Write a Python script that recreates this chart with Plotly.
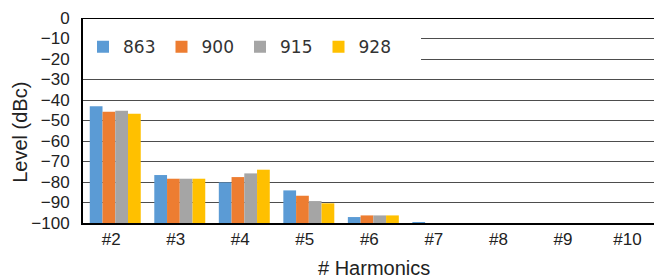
import plotly.graph_objects as go

categories = ["#2", "#3", "#4", "#5", "#6", "#7", "#8", "#9", "#10"]
series_names = ["863", "900", "915", "928"]
f863 = [-43.1, -76.6, -80.2, -84.1, -97.1, -99.6, -100, -100, -100]
f900 = [-45.7, -78.4, -77.6, -86.7, -96.3, -100, -100, -100, -100]
f915 = [-45.2, -78.4, -75.8, -89.3, -96.3, -100, -100, -100, -100]
f928 = [-46.7, -78.4, -74.0, -90.4, -96.3, -100, -100, -100, -100]
colors = ["#5B9BD5", "#ED7D31", "#A5A5A5", "#FFC000"]
y_ticks = list(range(-100, 1, 10))
baseline = -100

fig = go.Figure()
for name, vals, col in zip(series_names, [f863, f900, f915, f928], colors):
    fig.add_trace(go.Bar(
        x=categories, y=[v - baseline for v in vals], base=baseline,
        name=name, marker=dict(color=col, line=dict(width=0)),
    ))

fig.update_layout(
    width=654, height=279,
    margin=dict(l=83, r=0, t=18, b=56, autoexpand=False),
    paper_bgcolor="white", plot_bgcolor="white",
    barmode="group", bargap=0.21, bargroupgap=0,
    font=dict(family="Liberation Sans, Arial, sans-serif", color="#222"),
    showlegend=True,
    legend=dict(
        orientation="h", x=0.0, xanchor="left", y=0.945, yanchor="top",
        bgcolor="white", font=dict(family="DejaVu Sans, sans-serif", size=17, color="#333"),
        entrywidth=33.5, itemwidth=30, traceorder="normal",
    ),
    xaxis=dict(
        type="category", range=[-0.5, 8.35], showgrid=False, automargin=False,
        showline=True, linecolor="black", linewidth=2, ticks="",
        tickfont=dict(size=17), ticklabelshift=-4,
    ),
    yaxis=dict(
        range=[-100, 0], tickvals=y_ticks, showgrid=True, gridcolor="#4d4d4d", gridwidth=1,
        showline=True, linecolor="black", linewidth=2, ticks="", zeroline=False,
        automargin=False, tickfont=dict(size=17), ticklabelstandoff=8,
    ),
    shapes=[
        dict(type="line", xref="paper", yref="y", x0=0, x1=1, y0=0, y1=0,
             line=dict(color="black", width=2)),
        dict(type="rect", xref="paper", yref="y", x0=0.53, x1=0.592, y0=-25, y1=-5,
             fillcolor="white", line=dict(width=0), layer="above"),
    ],
    annotations=[
        dict(text="# Harmonics", xref="paper", yref="paper", x=0.51, y=0, xanchor="center",
             yanchor="middle", yshift=-45, showarrow=False, font=dict(size=20)),
        dict(text="Level (dBc)", xref="paper", yref="paper", x=0, y=0.44, xanchor="center",
             yanchor="middle", xshift=-63, textangle=-90, showarrow=False, font=dict(size=20)),
    ],
)

fig.write_html("out.html", config={"displayModeBar": False},
               post_script="document.body.style.margin='0px';")
